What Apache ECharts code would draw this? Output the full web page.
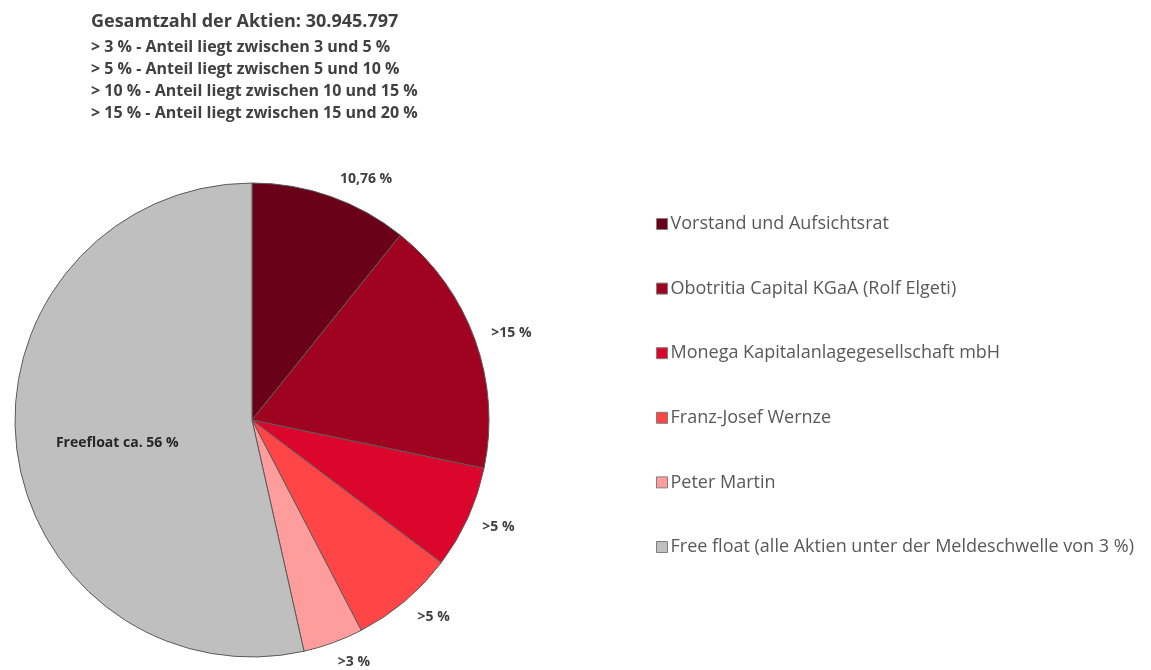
<!DOCTYPE html>
<html>
<head>
<meta charset="utf-8">
<script src="https://cdn.jsdelivr.net/npm/echarts@6/dist/echarts.min.js"></script>
<style>
  html, body { margin: 0; padding: 0; background: #fff; }
  #chart { width: 1151px; height: 670px; }
</style>
</head>
<body>
<div id="chart"></div>
<script>
// Aktionärsstruktur
const names = [
  "Vorstand und Aufsichtsrat",
  "Obotritia Capital KGaA (Rolf Elgeti)",
  "Monega Kapitalanlagegesellschaft mbH",
  "Franz-Josef Wernze",
  "Peter Martin",
  "Free float (alle Aktien unter der Meldeschwelle von 3 %)"
];
const shares = [10.76, 17.5, 7.0, 7.1, 4.1, 53.5];
const sliceLabels = ["10,76 %", ">15 %", ">5 %", ">5 %", ">3 %", "Freefloat ca. 56 %"];
const colors = ["#6b0019", "#a0031f", "#dc062d", "#ff4545", "#ff9c9c", "#bfbfbf"];

const titleText = "Gesamtzahl der Aktien: 30.945.797";
const noteLines = [
  "> 3 % - Anteil liegt zwischen 3 und 5 %",
  "> 5 % - Anteil liegt zwischen 5 und 10 %",
  "> 10 % - Anteil liegt zwischen 10 und 15 %",
  "> 15 % - Anteil liegt zwischen 15 und 20 %"
];

// kleine Verschiebungen der Beschriftungen wie im Original
const labelShift = [[0, -5], [4, -2], [2, 5], [2, 8], [-5, 9], [-14, 10]];

const myChart = echarts.init(document.getElementById("chart"));

const pieData = [];
for (let i = 0; i < names.length; i++) {
  const item = {
    name: names[i],
    value: shares[i],
    itemStyle: { color: colors[i] },
    label: { offset: labelShift[i] }
  };
  // Freefloat-Beschriftung sitzt im Segment
  if (i === names.length - 1) {
    item.label.position = "inside";
    item.label.color = "#262626";
  }
  pieData.push(item);
}

const option = {
  animation: false,
  title: {
    text: titleText,
    subtext: noteLines.join("\n"),
    left: 86,
    top: 8,
    itemGap: 6,
    textStyle: {
      fontFamily: "Open Sans",
      fontSize: 18,
      fontWeight: "bold",
      color: "#404040"
    },
    subtextStyle: {
      fontFamily: "Open Sans",
      fontSize: 16,
      fontWeight: "bold",
      color: "#404040",
      lineHeight: 21.7
    }
  },
  legend: {
    orient: "vertical",
    left: 651,
    top: 210,
    itemWidth: 11,
    itemHeight: 11,
    itemGap: 46.6,
    icon: "rect",
    itemStyle: { borderColor: "#7f7f7f", borderWidth: 1 },
    textStyle: {
      fontFamily: "Open Sans",
      fontSize: 18,
      color: "#595959",
      padding: [0, 0, 0, -2]
    },
    data: names
  },
  series: [
    {
      type: "pie",
      center: [252, 420],
      radius: 237,
      startAngle: 90,
      clockwise: true,
      itemStyle: { borderColor: "#5a5a5a", borderWidth: 1 },
      label: {
        show: true,
        position: "outside",
        fontFamily: "Open Sans",
        fontSize: 14,
        fontWeight: "bold",
        color: "#404040",
        formatter: function (p) {
          return sliceLabels[p.dataIndex];
        }
      },
      labelLine: { show: false, length: 13, length2: 0 },
      emphasis: { disabled: true },
      data: pieData
    }
  ]
};
myChart.setOption(option);
</script>
</body>
</html>
